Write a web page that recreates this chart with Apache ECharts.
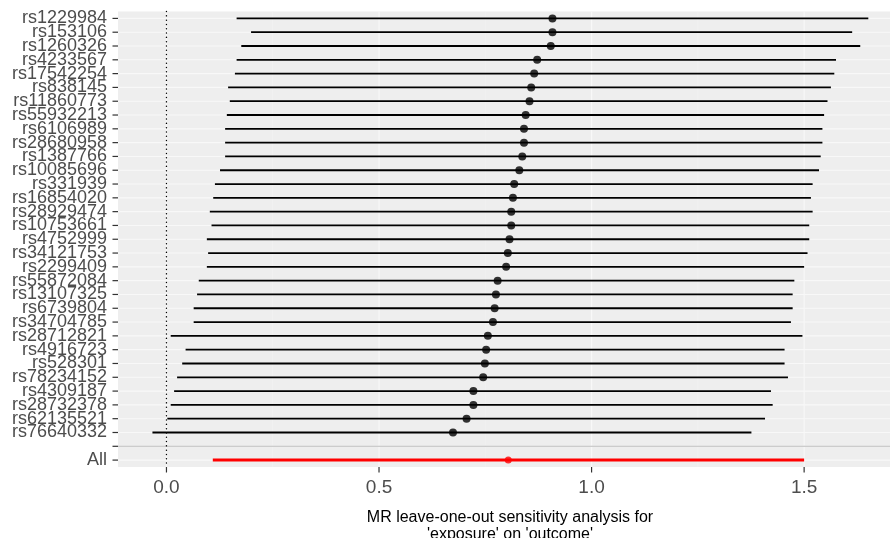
<!DOCTYPE html>
<html><head><meta charset="utf-8">
<script src="https://cdn.jsdelivr.net/npm/echarts@6/dist/echarts.min.js"></script>
<style>html,body{margin:0;padding:0;background:#fff}#c{width:890px;height:538px}</style>
</head><body><div id="c"></div>
<script>
const snps = ['rs1229984','rs153106','rs1260326','rs4233567','rs17542254','rs838145','rs11860773','rs55932213','rs6106989','rs28680958','rs1387766','rs10085696','rs331939','rs16854020','rs28929474','rs10753661','rs4752999','rs34121753','rs2299409','rs55872084','rs13107325','rs6739804','rs34704785','rs28712821','rs4916723','rs528301','rs78234152','rs4309187','rs28732378','rs62135521','rs76640332'];
const estimates = [0.908,0.908,0.904,0.872,0.865,0.858,0.854,0.845,0.841,0.841,0.837,0.830,0.818,0.815,0.811,0.811,0.807,0.803,0.799,0.779,0.775,0.772,0.768,0.756,0.752,0.749,0.745,0.722,0.722,0.706,0.674];
const lower = [0.165,0.199,0.176,0.165,0.161,0.145,0.149,0.142,0.138,0.138,0.138,0.126,0.114,0.110,0.102,0.106,0.095,0.098,0.095,0.076,0.072,0.064,0.064,0.010,0.045,0.037,0.025,0.018,0.010,0.002,-0.033];
const upper = [1.651,1.613,1.632,1.575,1.571,1.563,1.555,1.547,1.543,1.543,1.539,1.535,1.520,1.516,1.520,1.512,1.512,1.508,1.500,1.477,1.473,1.473,1.469,1.496,1.454,1.454,1.462,1.422,1.426,1.408,1.376];
const allLabel = 'All';
const allEstimate = 0.804, allLower = 0.109, allUpper = 1.500;
const xTicks = [0, 0.5, 1.0, 1.5];
const xMinorTicks = [0.25, 0.75, 1.25];
const xTitle = "MR leave-one-out sensitivity analysis for\n'exposure' on 'outcome'";

const categories = snps.concat(['', allLabel]);
const blankIndex = snps.length;
const allIndex = snps.length + 1;

const chart = echarts.init(document.getElementById('c'), null, {renderer: 'canvas'});

function hLine(color, width, type) {
  return function (params, api) {
    const cs = params.coordSys;
    const y = api.coord([0, api.value(0)])[1];
    return {type: 'line', shape: {x1: cs.x, y1: y, x2: cs.x + cs.width, y2: y},
      style: {stroke: color, lineWidth: width, lineDash: type}};
  };
}
function vLine(color, width, dash, cap) {
  return function (params, api) {
    const cs = params.coordSys;
    const x = api.coord([api.value(0), 0])[0];
    return {type: 'line', shape: {x1: x, y1: cs.y, x2: x, y2: cs.y + cs.height},
      style: {stroke: color, lineWidth: width, lineDash: dash, lineCap: cap || 'butt'}};
  };
}
function yTick(params, api) {
  const cs = params.coordSys;
  const y = api.coord([0, api.value(0)])[1];
  return {type: 'line', shape: {x1: cs.x - 5.5, y1: y, x2: cs.x, y2: y},
    style: {stroke: '#333333', lineWidth: 1.2}};
}
function xTick(params, api) {
  const cs = params.coordSys;
  const x = api.coord([api.value(0), 0])[0];
  const yb = cs.y + cs.height;
  return {type: 'line', shape: {x1: x, y1: yb, x2: x, y2: yb + 5.5},
    style: {stroke: '#333333', lineWidth: 1.2}};
}
function segment(color, width) {
  return function (params, api) {
    const a = api.coord([api.value(0), api.value(2)]);
    const b = api.coord([api.value(1), api.value(2)]);
    return {type: 'line', shape: {x1: a[0], y1: a[1], x2: b[0], y2: b[1]},
      style: {stroke: color, lineWidth: width}};
  };
}

const option = {
  animation: false,
  backgroundColor: '#ffffff',
  grid: {left: 118, right: 0, top: 11.5, bottom: 71, show: true, backgroundColor: '#EEEEEE', borderWidth: 0, containLabel: false},
  xAxis: {
    type: 'value', min: -0.114, max: 1.702,
    axisLine: {show: false, onZero: false},
    splitLine: {show: false},
    axisTick: {show: false},
    axisLabel: {customValues: xTicks, formatter: v => v.toFixed(1), color: '#4D4D4D', fontSize: 19, fontFamily: 'Liberation Sans, Arial, sans-serif', margin: 11}
  },
  yAxis: {
    type: 'category', data: categories, inverse: true,
    axisLine: {show: false, onZero: false},
    splitLine: {show: false},
    axisTick: {show: false},
    axisLabel: {color: '#4D4D4D', fontSize: 18, fontFamily: 'Liberation Sans, Arial, sans-serif', margin: 11, interval: 0}
  },
  graphic: [{
    type: 'text', x: 510, y: 509, z: 10,
    style: {text: xTitle, fill: '#000000', font: '16px "Liberation Sans", Arial, sans-serif', textAlign: 'center', textVerticalAlign: 'top', lineHeight: 17}
  }],
  series: [
    {type: 'custom', name: 'hgrid', z: 1, silent: true, renderItem: hLine('#F8F8F8', 1.1), data: categories.map((c, i) => [i]), encode: {y: 0}},
    {type: 'custom', name: 'vgrid', z: 1, silent: true, renderItem: vLine('#F8F8F8', 1.1), data: xTicks.map(v => [v]), encode: {x: 0}},
    {type: 'custom', name: 'vminor', z: 1, silent: true, renderItem: vLine('#F3F3F3', 0.6), data: xMinorTicks.map(v => [v]), encode: {x: 0}},
    {type: 'custom', name: 'yticks', z: 2, silent: true, clip: false, renderItem: yTick, data: categories.map((c, i) => [i]), encode: {y: 0}},
    {type: 'custom', name: 'xticks', z: 2, silent: true, clip: false, renderItem: xTick, data: xTicks.map(v => [v]), encode: {x: 0}},
    {type: 'custom', name: 'sep', z: 2, silent: true, renderItem: hLine('#BEBEBE', 1.1), data: [[blankIndex]], encode: {y: 0}},
    {type: 'custom', name: 'zero', z: 2, silent: true, renderItem: vLine('#000000', 1.4, [0.1, 4.2], 'round'), data: [[0]], encode: {x: 0}},
    {type: 'custom', name: 'ci', z: 3, renderItem: segment('#000000', 1.8),
      data: snps.map((s, i) => [lower[i], upper[i], i]), encode: {x: [0, 1], y: 2}},
    {type: 'scatter', name: 'estimate', z: 4, symbol: 'circle', symbolSize: 8, itemStyle: {color: '#000000'},
      data: snps.map((s, i) => [estimates[i], s])},
    {type: 'custom', name: 'allci', z: 3, renderItem: segment('#FF0000', 3),
      data: [[allLower, allUpper, allIndex]], encode: {x: [0, 1], y: 2}},
    {type: 'scatter', name: 'allEst', z: 4, symbol: 'circle', symbolSize: 7, itemStyle: {color: '#FF0000'},
      data: [[allEstimate, allLabel]]}
  ]
};
chart.setOption(option);
</script></body></html>
